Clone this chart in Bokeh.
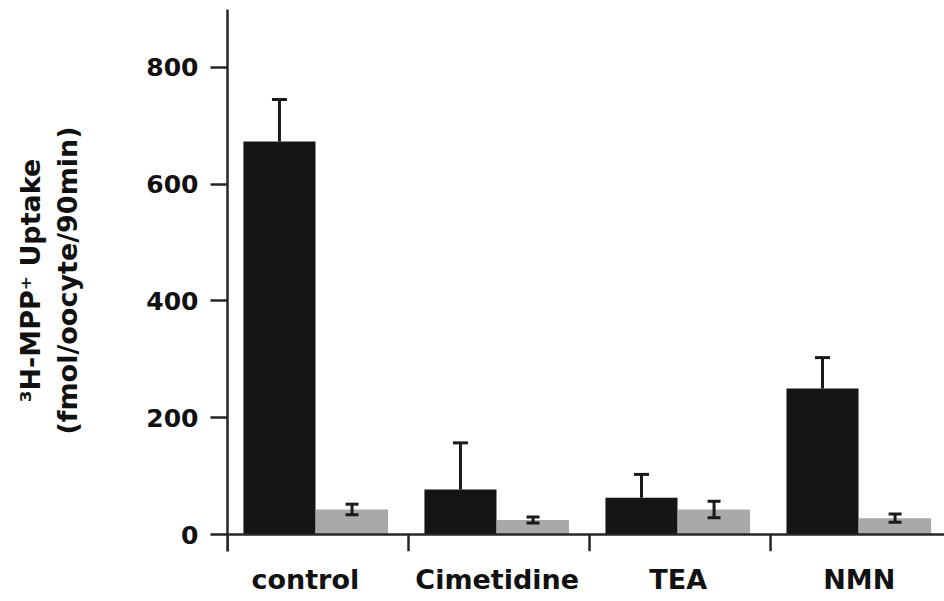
import numpy as np
from bokeh.plotting import figure
from bokeh.models import (ColumnDataSource, Whisker, TeeHead, Span, FixedTicker,
                          Range1d)
from bokeh.embed import file_html
from bokeh.resources import INLINE

# ---- data ----
categories = ["control", "Cimetidine", "TEA", "NMN"]
dark_values = [673, 77, 63, 250]
dark_err = [72, 80, 40, 53]
grey_values = [43, 25, 43, 28]
grey_err = [9, 5, 14, 7]
y_ticks = [0, 200, 400, 600, 800]

FONT = "DejaVu Sans"
n = len(categories)
idx = np.arange(n)
bar_w = 0.398
dark_x = idx + 0.287
grey_x = idx + 0.688

p = figure(width=944, height=601, output_backend="svg", toolbar_location=None,
           x_range=Range1d(0, 3.961), y_range=Range1d(-29, 899),
           min_border_left=227, min_border_right=0, min_border_top=9,
           min_border_bottom=50)
p.outline_line_color = None
p.grid.grid_line_color = None
p.background_fill_color = "white"
p.border_fill_color = "white"

src_d = ColumnDataSource(dict(x=dark_x, top=dark_values,
                              lo=np.array(dark_values),
                              hi=np.array(dark_values) + np.array(dark_err)))
src_g = ColumnDataSource(dict(x=grey_x, top=grey_values,
                              lo=np.array(grey_values) - np.array(grey_err),
                              hi=np.array(grey_values) + np.array(grey_err)))

p.vbar(x="x", top="top", bottom=0, width=bar_w, source=src_d,
       fill_color="#151515", line_color=None)
p.vbar(x="x", top="top", bottom=0, width=bar_w, source=src_g,
       fill_color="#a9a9a9", line_color=None)

ink = "#1a1a1a"
w_d = Whisker(base="x", lower="lo", upper="hi", source=src_d, level="overlay",
              line_color=ink, line_width=3,
              upper_head=TeeHead(size=15, line_color=ink, line_width=3),
              lower_head=None)
w_g = Whisker(base="x", lower="lo", upper="hi", source=src_g, level="overlay",
              line_color=ink, line_width=3,
              upper_head=TeeHead(size=13, line_color=ink, line_width=3),
              lower_head=TeeHead(size=13, line_color=ink, line_width=3))
p.add_layout(w_d)
p.add_layout(w_g)

# x baseline and category separator ticks
axis_col = "#262626"
p.add_layout(Span(location=0, dimension="width", line_color=axis_col, line_width=2.5))
p.segment(x0=idx.astype(float), y0=0, x1=idx.astype(float), y1=-29,
          line_color=axis_col, line_width=2.5)

# y axis
ya = p.yaxis[0]
ya.ticker = FixedTicker(ticks=y_ticks)
ya.axis_line_color = axis_col
ya.axis_line_width = 2.5
ya.major_tick_line_color = axis_col
ya.major_tick_line_width = 2.5
ya.major_tick_out = 17
ya.major_tick_in = 0
ya.minor_tick_line_color = None
ya.major_label_text_font = FONT
ya.major_label_text_font_style = "bold"
ya.major_label_text_font_size = "25px"
ya.major_label_text_color = "#111111"
ya.major_label_standoff = 12
ya.axis_label = "\u00b3H-MPP\u207a Uptake\n(fmol/oocyte/90min)"
ya.axis_label_text_font = FONT
ya.axis_label_text_font_style = "bold"
ya.axis_label_text_font_size = "27px"
ya.axis_label_text_color = "#111111"
ya.axis_label_standoff = 60

# x axis: labels only
xa = p.xaxis[0]
label_pos = [0.43, 1.49, 2.49, 3.49]
xa.ticker = FixedTicker(ticks=label_pos)
xa.major_label_overrides = {t: c for t, c in zip(label_pos, categories)}
xa.axis_line_color = None
xa.major_tick_line_color = None
xa.minor_tick_line_color = None
xa.major_tick_out = 0
xa.major_tick_in = 0
xa.major_label_text_font = FONT
xa.major_label_text_font_style = "bold"
xa.major_label_text_font_size = "27px"
xa.major_label_text_color = "#111111"
xa.major_label_standoff = 12

open("out.html", "w").write(file_html(p, INLINE))
